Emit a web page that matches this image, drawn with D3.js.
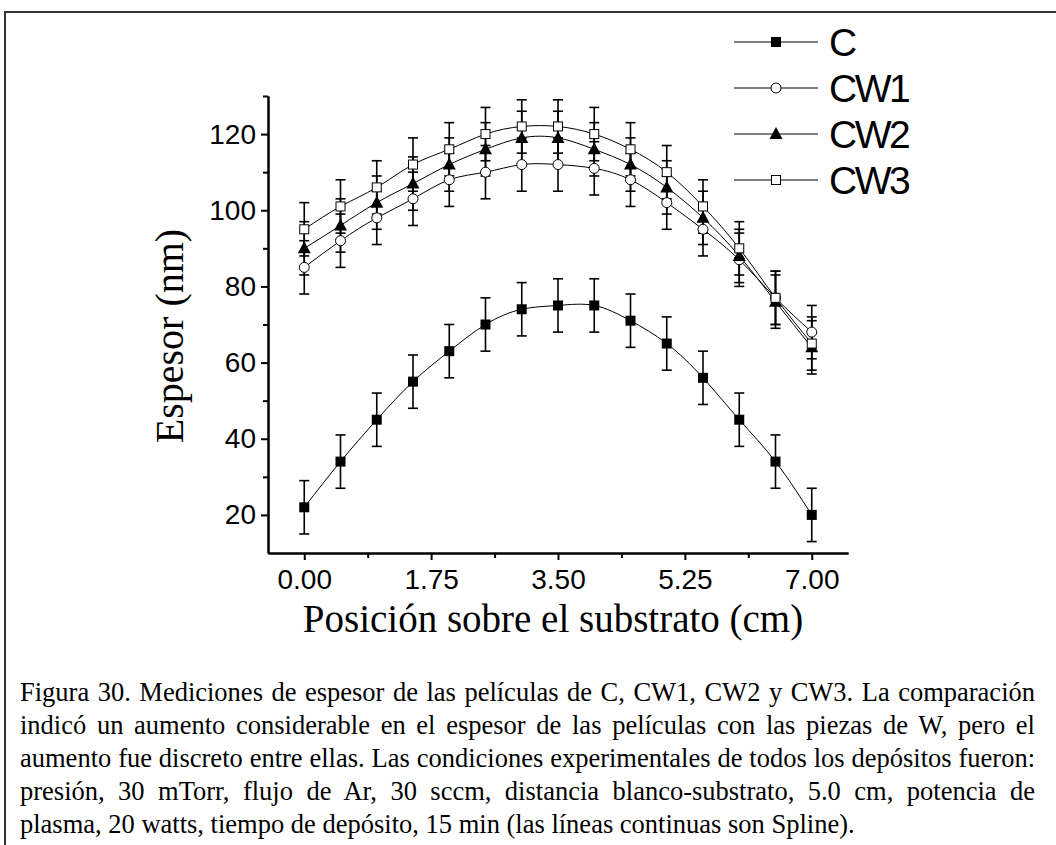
<!DOCTYPE html>
<html>
<head>
<meta charset="utf-8">
<script src="https://cdn.jsdelivr.net/npm/d3@7"></script>
<style>
  html, body { margin: 0; padding: 0; background: #fff; }
  svg { display: block; }
</style>
</head>
<body>
<svg id="chart" width="1056" height="845"></svg>
<script>
// ---- data ----
const positions = [0, 0.5, 1, 1.5, 2, 2.5, 3, 3.5, 4, 4.5, 5, 5.5, 6, 6.5, 7];
const seriesNames = ["C", "CW1", "CW2", "CW3"];
const valuesC   = [22, 34, 45, 55, 63, 70, 74, 75, 75, 71, 65, 56, 45, 34, 20];
const valuesCW1 = [85, 92, 98, 103, 108, 110, 112, 112, 111, 108, 102, 95, 87, 77, 68];
const valuesCW2 = [90, 96, 102, 107, 112, 116, 119, 119, 116, 112, 106, 98, 88, 76, 64];
const valuesCW3 = [95, 101, 106, 112, 116, 120, 122, 122, 120, 116, 110, 101, 90, 77, 65];
const errorC   = [7, 7, 7, 7, 7, 7, 7, 7, 7, 7, 7, 7, 7, 7, 7];
const errorCW1 = [7, 7, 7, 7, 7, 7, 7, 7, 7, 7, 7, 7, 7, 7, 7];
const errorCW2 = [7, 7, 7, 7, 7, 7, 7, 7, 7, 7, 7, 7, 7, 7, 7];
const errorCW3 = [7, 7, 7, 7, 7, 7, 7, 7, 7, 7, 7, 7, 7, 7, 7];
const xTicks = [0, 1.75, 3.5, 5.25, 7];
const xTickLabels = ["0.00", "1.75", "3.50", "5.25", "7.00"];
const xMinorTicks = [0.875, 2.625, 4.375, 6.125];
const yTicks = [20, 40, 60, 80, 100, 120];
const yMinorTicks = [30, 50, 70, 90, 110, 130];
const xTitle = "Posición sobre el substrato (cm)";
const yTitle = "Espesor (nm)";
const captionLines = [
  "Figura 30. Mediciones de espesor de las películas de C, CW1, CW2 y CW3. La comparación",
  "indicó un aumento considerable en el espesor de las películas con las piezas de W, pero el",
  "aumento fue discreto entre ellas. Las condiciones experimentales de todos los depósitos fueron:",
  "presión, 30 mTorr, flujo de Ar, 30 sccm, distancia blanco-substrato, 5.0 cm, potencia de",
  "plasma, 20 watts, tiempo de depósito, 15 min (las líneas continuas son Spline)."
];

const series = [
  { name: seriesNames[0], values: valuesC,   err: errorC,   symbol: "sqFill" },
  { name: seriesNames[1], values: valuesCW1, err: errorCW1, symbol: "circOpen" },
  { name: seriesNames[2], values: valuesCW2, err: errorCW2, symbol: "triFill" },
  { name: seriesNames[3], values: valuesCW3, err: errorCW3, symbol: "sqOpen" }
];

// ---- layout ----
const svg = d3.select("#chart");
const x = d3.scaleLinear().domain([-0.5, 7.5]).range([268, 848]);
const y = d3.scaleLinear().domain([10, 130]).range([553, 96]);

// frame
svg.append("path")
  .attr("d", "M5,845 V12 H1056")
  .attr("fill", "none").attr("stroke", "#333").attr("stroke-width", 2);

// axes
const gx = svg.append("g").attr("transform", `translate(0,${y(10)})`);
gx.call(d3.axisBottom(x).tickValues(xTicks).tickFormat((d, i) => xTickLabels[i]).tickSize(7).tickSizeOuter(0).tickPadding(9));
const gxm = svg.append("g").attr("transform", `translate(0,${y(10)})`);
gxm.call(d3.axisBottom(x).tickValues(xMinorTicks).tickFormat("").tickSize(5).tickSizeOuter(0));

const gy = svg.append("g").attr("transform", `translate(${x(-0.5)},0)`);
gy.call(d3.axisLeft(y).tickValues(yTicks).tickSize(7).tickSizeOuter(0).tickPadding(5));
const gym = svg.append("g").attr("transform", `translate(${x(-0.5)},0)`);
gym.call(d3.axisLeft(y).tickValues(yMinorTicks).tickFormat("").tickSize(5).tickSizeOuter(0));

svg.selectAll(".domain").attr("stroke", "#000").attr("stroke-width", 2);
svg.selectAll(".tick line").attr("stroke", "#000").attr("stroke-width", 2);
svg.selectAll(".tick text")
  .attr("font-family", "'Liberation Sans', Arial, sans-serif")
  .attr("font-size", 28).attr("fill", "#000");

// titles
svg.append("text")
  .attr("x", 553).attr("y", 632)
  .attr("text-anchor", "middle")
  .attr("font-family", "'Liberation Serif', 'Times New Roman', serif")
  .attr("font-size", 39)
  .text(xTitle);

svg.append("text")
  .attr("transform", "translate(183,336) rotate(-90)")
  .attr("text-anchor", "middle")
  .attr("font-family", "'Liberation Serif', 'Times New Roman', serif")
  .attr("font-size", 40)
  .text(yTitle);

// symbols
function drawSymbol(g, type, cx, cy) {
  if (type === "sqFill") {
    g.append("rect").attr("x", cx - 5).attr("y", cy - 5).attr("width", 10).attr("height", 10)
      .attr("fill", "#000");
  } else if (type === "sqOpen") {
    g.append("rect").attr("x", cx - 4.5).attr("y", cy - 4.5).attr("width", 9).attr("height", 9)
      .attr("fill", "#fff").attr("stroke", "#000").attr("stroke-width", 1);
  } else if (type === "circOpen") {
    g.append("circle").attr("cx", cx).attr("cy", cy).attr("r", 5)
      .attr("fill", "#fff").attr("stroke", "#000").attr("stroke-width", 1);
  } else if (type === "triFill") {
    g.append("path").attr("d", `M${cx},${cy - 7} L${cx + 6.5},${cy + 5} L${cx - 6.5},${cy + 5} Z`)
      .attr("fill", "#000");
  }
}

// error bars
const gErr = svg.append("g").attr("stroke", "#000").attr("stroke-width", 1.6).attr("fill", "none");
series.forEach(s => {
  s.values.forEach((v, i) => {
    const px = x(positions[i]);
    const top = y(v + s.err[i]), bot = y(v - s.err[i]);
    gErr.append("line").attr("x1", px).attr("x2", px).attr("y1", top).attr("y2", bot);
    gErr.append("line").attr("x1", px - 5).attr("x2", px + 5).attr("y1", top).attr("y2", top);
    gErr.append("line").attr("x1", px - 5).attr("x2", px + 5).attr("y1", bot).attr("y2", bot);
  });
});

// spline lines
const line = d3.line().x(d => x(d[0])).y(d => y(d[1])).curve(d3.curveNatural);
series.forEach(s => {
  svg.append("path")
    .attr("d", line(s.values.map((v, i) => [positions[i], v])))
    .attr("fill", "none").attr("stroke", "#000").attr("stroke-width", 1);
});

// markers
series.forEach(s => {
  const g = svg.append("g");
  s.values.forEach((v, i) => drawSymbol(g, s.symbol, x(positions[i]), y(v)));
});

// legend
const legendRows = [42, 88, 134, 180];
series.forEach((s, i) => {
  const g = svg.append("g");
  g.append("line").attr("x1", 734).attr("x2", 818).attr("y1", legendRows[i]).attr("y2", legendRows[i])
    .attr("stroke", "#555").attr("stroke-width", 1.5);
  drawSymbol(g, s.symbol, 776, legendRows[i]);
  g.append("text").attr("x", 829).attr("y", legendRows[i] + 14)
    .attr("font-family", "'Liberation Sans', Arial, sans-serif")
    .attr("font-size", 39).attr("letter-spacing", -2.5)
    .text(s.name);
});

// caption (justified)
const capLeft = 20, capRight = 1035;
const capBase = [701, 734, 767, 800, 833];
captionLines.forEach((t, i) => {
  const txt = svg.append("text")
    .attr("x", capLeft).attr("y", capBase[i])
    .attr("font-family", "'Liberation Serif', 'Times New Roman', serif")
    .attr("font-size", 26.5)
    .text(t);
  if (i < captionLines.length - 1) {
    const w = txt.node().getComputedTextLength();
    const spaces = (t.match(/ /g) || []).length;
    txt.attr("word-spacing", ((capRight - capLeft) - w) / spaces);
  }
});
</script>
</body>
</html>
